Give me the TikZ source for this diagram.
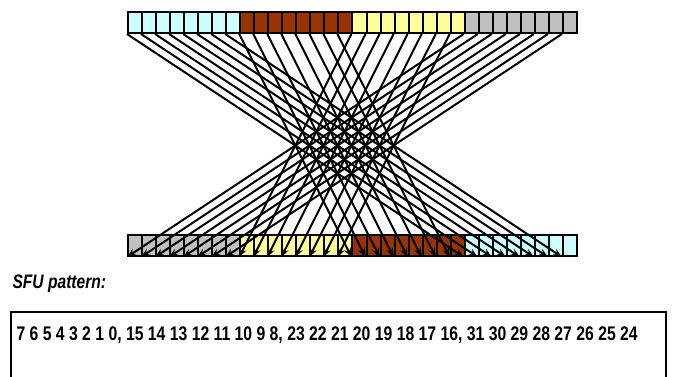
\documentclass[tikz,border=0pt]{standalone}
\usepackage{fontspec}
\setmainfont{Liberation Sans}
\newfontfamily\narrowfont[FakeStretch=0.8]{Liberation Sans}
\usetikzlibrary{arrows.meta}

\definecolor{sfucyan}{HTML}{CCFFFF}
\definecolor{sfubrown}{HTML}{993300}
\definecolor{sfuyellow}{HTML}{FFFF99}
\definecolor{sfugray}{HTML}{C0C0C0}

\newcommand*{\cellw}{14.03}
\newcommand*{\cellh}{21}
\newcommand*{\xstart}{128}
\newcommand*{\ytop}{22.5}
\newcommand*{\ybot}{245.5}

\begin{document}
\begin{tikzpicture}
[
	x=1pt, y=-1pt,
	cell/.style={draw,line width=2pt,inner sep=0pt,minimum width=\cellw pt,minimum height=\cellh pt},
	wire/.style={line width=2pt,-{Stealth[length=9pt,width=7pt]}},
	label/.style={font=\narrowfont\bfseries\itshape\fontsize{19.5}{22}\selectfont,anchor=west},
	pattern/.style={font=\narrowfont\bfseries\fontsize{19.7}{23}\selectfont,anchor=west}
]
	\useasboundingbox (0,0) rectangle (677,376);

	% top row: cyan, brown, yellow, gray
	\foreach \i in {0,...,31} {
		\pgfmathtruncatemacro{\g}{int(\i/8)}
		\ifcase\g \def\c{sfucyan}\or \def\c{sfubrown}\or \def\c{sfuyellow}\or \def\c{sfugray}\fi
		\node[cell,fill=\c] (t\i) at ({\xstart+(\i+0.5)*\cellw},\ytop) {};
	}

	% bottom row: groups in reverse order
	\foreach \i in {0,...,31} {
		\pgfmathtruncatemacro{\g}{int(\i/8)}
		\ifcase\g \def\c{sfugray}\or \def\c{sfuyellow}\or \def\c{sfubrown}\or \def\c{sfucyan}\fi
		\node[cell,fill=\c] (b\i) at ({\xstart+(\i+0.5)*\cellw},\ybot) {};
	}

	% wires: group g goes to group 3-g
	\foreach \i in {0,...,31} {
		\pgfmathtruncatemacro{\d}{8*(3-int(\i/8))+mod(\i,8)}
		\draw[wire] (t\i.south west) -- (b\d.south west);
	}

	\node[label] (lbl) at (9,284) {SFU pattern:};
	\draw[line width=1.6pt] (11,390) -- (11,312) -- (666,312) -- (666,390);
	\node[pattern] (pat) at (13,335) {7 6 5 4 3 2 1 0, 15 14 13 12 11 10 9 8, 23 22 21 20 19 18 17 16, 31 30 29 28 27 26 25 24};

\end{tikzpicture}
\end{document}
